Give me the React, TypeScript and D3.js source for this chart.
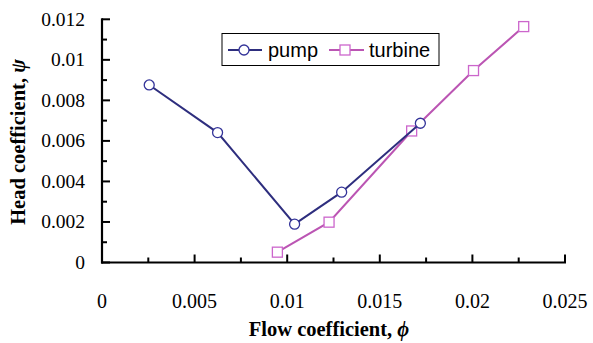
import * as d3 from 'd3';
import React, { useEffect, useRef } from 'react';

// values
const pumpPhi = [0.00255, 0.00624, 0.0104, 0.01294, 0.01719];
const pumpPsi = [0.00876, 0.00641, 0.00189, 0.00347, 0.00687];
const turbinePhi = [0.00947, 0.01226, 0.01672, 0.02006, 0.02277];
const turbinePsi = [0.00051, 0.00199, 0.00649, 0.00947, 0.01164];

const xTickValues = [0, 0.005, 0.01, 0.015, 0.02, 0.025];
const xTickLabels = ['0', '0.005', '0.01', '0.015', '0.02', '0.025'];
const yTickValues = [0, 0.002, 0.004, 0.006, 0.008, 0.01, 0.012];
const yTickLabels = ['0', '0.002', '0.004', '0.006', '0.008', '0.01', '0.012'];

const PUMP_LINE = '#2e2e7e';
const PUMP_MARK = '#333399';
const TURB_LINE = '#bb55b3';
const TURB_MARK = '#cc66cc';

export default function App() {
    const ref = useRef<SVGSVGElement>(null);

    useEffect(() => {
        const svg = d3.select(ref.current);
        svg.selectAll('*').remove();

        const x = d3.scaleLinear().domain([0, 0.025]).range([102, 565]);
        const y = d3.scaleLinear().domain([0, 0.012]).range([262.5, 19.3]);
        const serif = '"Liberation Serif", "Times New Roman", serif';

        // tick marks point inward: every 0.0025 on x, 0.001 on y, labelled ones longer
        const xMinor = d3.range(0, 11).map((i) => i * 0.0025);
        const yMinor = d3.range(0, 13).map((i) => i * 0.001);

        const axes = svg.append('g').attr('stroke', 'black');
        axes.selectAll('line.xt')
            .data(xMinor)
            .enter()
            .append('line')
            .attr('class', 'xt')
            .attr('x1', (d) => x(d))
            .attr('x2', (d) => x(d))
            .attr('y1', y(0))
            .attr('y2', (d, i) => y(0) - (i % 2 === 0 ? 8 : 5))
            .attr('stroke-width', 2);
        axes.selectAll('line.yt')
            .data(yMinor)
            .enter()
            .append('line')
            .attr('class', 'yt')
            .attr('x1', x(0))
            .attr('x2', (d, i) => x(0) + (i % 2 === 0 ? 8 : 5))
            .attr('y1', (d) => y(d))
            .attr('y2', (d) => y(d))
            .attr('stroke-width', 2);
        axes.append('line')
            .attr('x1', x(0) - 1).attr('x2', x(0.025) + 1)
            .attr('y1', y(0)).attr('y2', y(0))
            .attr('stroke-width', 2.2);
        axes.append('line')
            .attr('x1', x(0)).attr('x2', x(0))
            .attr('y1', y(0.012) - 1).attr('y2', y(0) + 1)
            .attr('stroke-width', 2.2);

        // tick labels
        svg.append('g').selectAll('text')
            .data(xTickValues)
            .enter()
            .append('text')
            .attr('x', (d) => x(d))
            .attr('y', 307.5)
            .attr('text-anchor', 'middle')
            .attr('font-family', serif)
            .attr('font-size', 20)
            .text((d, i) => xTickLabels[i]);

        svg.append('g').selectAll('text')
            .data(yTickValues)
            .enter()
            .append('text')
            .attr('x', 85)
            .attr('y', (d) => y(d) + 6.5)
            .attr('text-anchor', 'end')
            .attr('font-family', serif)
            .attr('font-size', 19.5)
            .text((d, i) => yTickLabels[i]);

        // axis titles
        const xt = svg.append('text')
            .attr('x', 329)
            .attr('y', 336)
            .attr('text-anchor', 'middle')
            .attr('font-family', serif)
            .attr('font-weight', 'bold')
            .attr('font-size', 20.5);
        xt.append('tspan').text('Flow coefficient, ');
        xt.append('tspan').attr('font-style', 'italic').text('ϕ');

        const yt = svg.append('text')
            .attr('transform', 'translate(25,142)rotate(-90)')
            .attr('text-anchor', 'middle')
            .attr('font-family', serif)
            .attr('font-weight', 'bold')
            .attr('font-size', 20.5);
        yt.append('tspan').text('Head coefficient, ');
        yt.append('tspan').attr('font-style', 'italic').text('ψ');

        const line = d3.line<[number, number]>()
            .x((d) => x(d[0]))
            .y((d) => y(d[1]));

        const pump = pumpPhi.map((v, i) => [v, pumpPsi[i]] as [number, number]);
        const turb = turbinePhi.map((v, i) => [v, turbinePsi[i]] as [number, number]);

        // turbine
        svg.append('path')
            .datum(turb)
            .attr('d', line)
            .attr('fill', 'none')
            .attr('stroke', TURB_LINE)
            .attr('stroke-width', 2);
        svg.append('g').selectAll('rect')
            .data(turb)
            .enter()
            .append('rect')
            .attr('x', (d) => x(d[0]) - 5)
            .attr('y', (d) => y(d[1]) - 5)
            .attr('width', 10)
            .attr('height', 10)
            .attr('fill', 'white')
            .attr('stroke', TURB_MARK)
            .attr('stroke-width', 1.3);

        // pump
        svg.append('path')
            .datum(pump)
            .attr('d', line)
            .attr('fill', 'none')
            .attr('stroke', PUMP_LINE)
            .attr('stroke-width', 2);
        svg.append('g').selectAll('circle')
            .data(pump)
            .enter()
            .append('circle')
            .attr('cx', (d) => x(d[0]))
            .attr('cy', (d) => y(d[1]))
            .attr('r', 5)
            .attr('fill', 'white')
            .attr('stroke', PUMP_MARK)
            .attr('stroke-width', 1.3);

        // legend
        const lg = svg.append('g');
        lg.append('rect')
            .attr('x', 222)
            .attr('y', 33.5)
            .attr('width', 217)
            .attr('height', 32)
            .attr('fill', 'white')
            .attr('stroke', 'black')
            .attr('stroke-width', 1);
        lg.append('line')
            .attr('x1', 228).attr('x2', 262).attr('y1', 50).attr('y2', 50)
            .attr('stroke', PUMP_LINE).attr('stroke-width', 2);
        lg.append('circle')
            .attr('cx', 244).attr('cy', 50).attr('r', 5)
            .attr('fill', 'white').attr('stroke', PUMP_MARK).attr('stroke-width', 1.3);
        lg.append('text')
            .attr('x', 268).attr('y', 57)
            .attr('font-family', '"Liberation Sans", Arial, sans-serif')
            .attr('font-size', 20)
            .text('pump');
        lg.append('line')
            .attr('x1', 329).attr('x2', 364).attr('y1', 50).attr('y2', 50)
            .attr('stroke', TURB_LINE).attr('stroke-width', 2);
        lg.append('rect')
            .attr('x', 340).attr('y', 45).attr('width', 10).attr('height', 10)
            .attr('fill', 'white').attr('stroke', TURB_MARK).attr('stroke-width', 1.3);
        lg.append('text')
            .attr('x', 369).attr('y', 57)
            .attr('font-family', '"Liberation Sans", Arial, sans-serif')
            .attr('font-size', 20)
            .text('turbine');
    }, []);

    return (
        <svg
            ref={ref}
            width={593}
            height={343}
            style={{ position: 'absolute', left: 0, top: 0, background: 'white' }}
        />
    );
}
